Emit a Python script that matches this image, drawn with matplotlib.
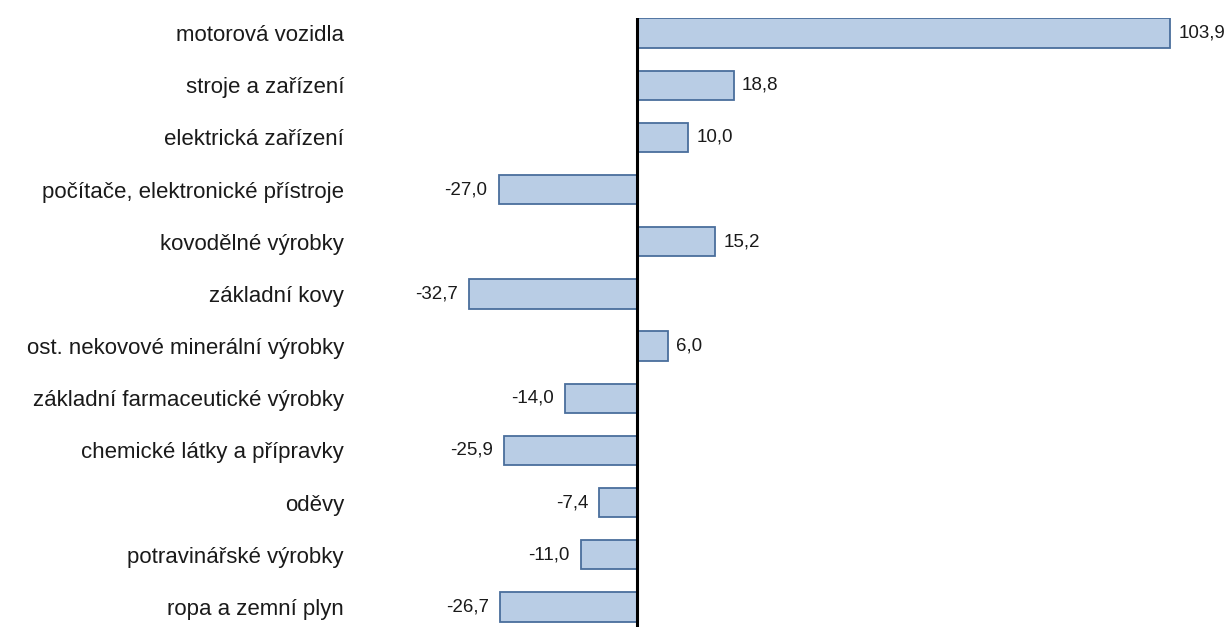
import matplotlib.pyplot as plt

plt.rcParams['font.family'] = ['Liberation Sans', 'DejaVu Sans']

categories = [
    'motorová vozidla',
    'stroje a zařízení',
    'elektrická zařízení',
    'počítače, elektronické přístroje',
    'kovodělné výrobky',
    'základní kovy',
    'ost. nekovové minerální výrobky',
    'základní farmaceutické výrobky',
    'chemické látky a přípravky',
    'oděvy',
    'potravinářské výrobky',
    'ropa a zemní plyn',
]
values = [103.9, 18.8, 10.0, -27.0, 15.2, -32.7, 6.0, -14.0, -25.9, -7.4, -11.0, -26.7]

W, H = 1232, 627
fig = plt.figure(figsize=(W / 100, H / 100), dpi=100)
# axes in pixel coords: left 355, right 1225, top 18, bottom 627
ax = fig.add_axes([355 / W, 0, (1225 - 355) / W, (627 - 18) / H])

pos = list(range(len(categories)))
ax.barh(pos, values, height=0.56, color='#B9CDE5', edgecolor='#4A6E9C', linewidth=1.3)
ax.axvline(0, color='black', linewidth=2.2, zorder=3)

ax.set_xlim(-55, 114.6)
ax.set_ylim(11 + 20 / 52.2, -15 / 52.2)

ax.set_yticks(pos)
ax.set_yticklabels(categories, fontsize=16, color='#1a1a1a')
ax.tick_params(axis='y', length=0, pad=8)
ax.set_xticks([])
for s in ax.spines.values():
    s.set_visible(False)

for p, v in zip(pos, values):
    txt = f'{v:.1f}'.replace('.', ',')
    if v >= 0:
        ax.annotate(txt, (v, p), xytext=(6, 0), textcoords='offset points',
                    ha='left', va='center', fontsize=13.5, color='#1a1a1a')
    else:
        ax.annotate(txt, (v, p), xytext=(-8, 0), textcoords='offset points',
                    ha='right', va='center', fontsize=13.5, color='#1a1a1a')

fig.savefig('out.png', dpi=100)
